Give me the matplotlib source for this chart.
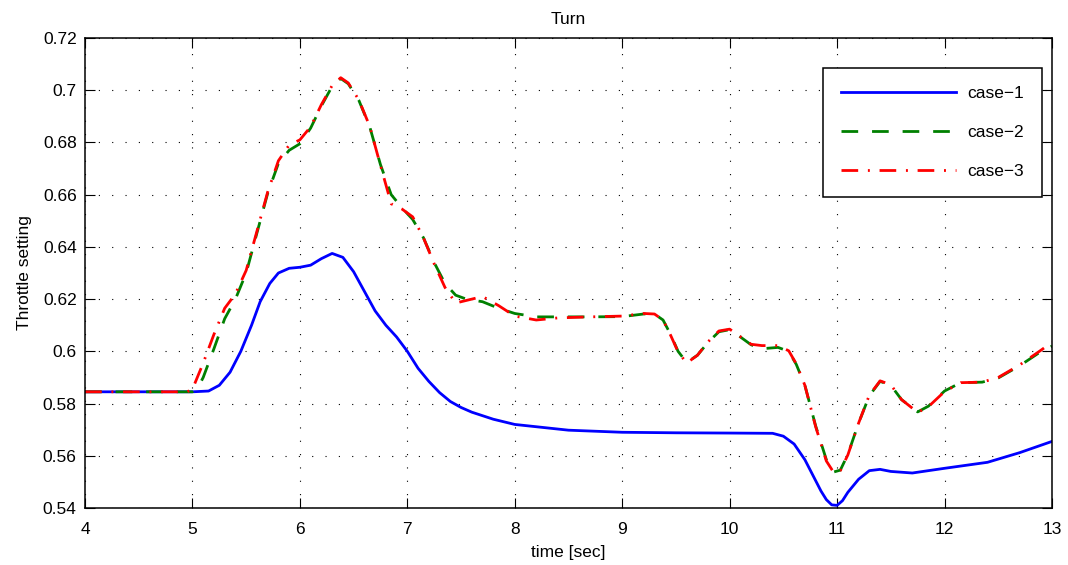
import matplotlib.pyplot as plt
import numpy as np

plt.rcParams['font.family'] = ['Liberation Sans', 'DejaVu Sans']

# case-1 throttle history
t1 = [4.0, 4.5, 5.0, 5.15, 5.25, 5.35, 5.45, 5.55, 5.63, 5.72, 5.8, 5.9, 6.0,
      6.1, 6.2, 6.3, 6.4, 6.5, 6.6, 6.7, 6.8, 6.9, 7.0, 7.1, 7.2, 7.3, 7.4,
      7.5, 7.6, 7.8, 8.0, 8.5, 9.0, 9.5, 10.0, 10.4, 10.5, 10.6, 10.7, 10.8,
      10.85, 10.9, 10.95, 11.0, 11.05, 11.1, 11.2, 11.3, 11.4, 11.5, 11.7,
      12.0, 12.4, 12.7, 13.0]
case1 = [0.5845, 0.5845, 0.5845, 0.5848, 0.587, 0.592, 0.600, 0.610, 0.619,
         0.626, 0.630, 0.6318, 0.6322, 0.633, 0.6355, 0.6375, 0.636, 0.6305,
         0.623, 0.6155, 0.610, 0.6055, 0.600, 0.5935, 0.5885, 0.5842, 0.5808,
         0.5785, 0.5767, 0.574, 0.572, 0.5698, 0.569, 0.5688, 0.5687, 0.5686,
         0.5675, 0.5645, 0.5585, 0.5505, 0.5465, 0.5432, 0.5412, 0.541,
         0.5428, 0.546, 0.551, 0.5543, 0.5548, 0.554, 0.5534, 0.5552, 0.5575,
         0.5612, 0.5655]

# case-2 / case-3 share the same time base
t23 = [4.0, 4.5, 4.95, 5.0, 5.05, 5.1, 5.2, 5.3, 5.4, 5.5, 5.6, 5.7, 5.8, 5.9,
       6.0, 6.1, 6.2, 6.3, 6.38, 6.45, 6.55, 6.65, 6.75, 6.85, 6.95, 7.05,
       7.15, 7.25, 7.35, 7.45, 7.55, 7.7, 7.85, 8.0, 8.2, 8.4, 8.7, 9.0, 9.2,
       9.3, 9.38, 9.45, 9.52, 9.6, 9.7, 9.8, 9.9, 10.0, 10.1, 10.2, 10.3,
       10.45, 10.55, 10.62, 10.7, 10.8, 10.9, 10.97, 11.03, 11.1, 11.2, 11.3,
       11.4, 11.5, 11.6, 11.75, 11.85, 12.0, 12.15, 12.35, 12.5, 12.7, 12.9,
       13.0]
case2 = [0.5845, 0.5845, 0.5845, 0.5845, 0.586, 0.590, 0.601, 0.6125, 0.620,
         0.630, 0.6453, 0.6605, 0.672, 0.677, 0.6795, 0.6855, 0.694, 0.7015,
         0.7045, 0.7025, 0.696, 0.686, 0.6715, 0.660, 0.655, 0.6505, 0.6435,
         0.634, 0.626, 0.6215, 0.620, 0.619, 0.6165, 0.6145, 0.6132, 0.6132,
         0.6132, 0.6133, 0.6143, 0.6143, 0.612, 0.6065, 0.600, 0.5957, 0.5985,
         0.6035, 0.6075, 0.6083, 0.6055, 0.6025, 0.601, 0.6015, 0.600, 0.595,
         0.587, 0.5715, 0.5585, 0.5538, 0.5545, 0.5605, 0.5725, 0.583, 0.5885,
         0.587, 0.5815, 0.5768, 0.579, 0.5848, 0.588, 0.5882, 0.5898, 0.5945,
         0.600, 0.602]
case3 = [0.5845, 0.5845, 0.5845, 0.5855, 0.5905, 0.5955, 0.6065, 0.6165,
         0.622, 0.631, 0.646, 0.661, 0.673, 0.679, 0.681, 0.686, 0.6945,
         0.7018, 0.7048, 0.7028, 0.6962, 0.6862, 0.6712, 0.6565, 0.6545,
         0.6515, 0.6435, 0.6335, 0.6245, 0.6185, 0.6195, 0.621, 0.6175,
         0.6135, 0.612, 0.6128, 0.6132, 0.6135, 0.6145, 0.6143, 0.612, 0.6062,
         0.5998, 0.5955, 0.5985, 0.6037, 0.6078, 0.6085, 0.6056, 0.6027,
         0.6022, 0.6022, 0.6002, 0.5952, 0.587, 0.5712, 0.558, 0.5535, 0.5543,
         0.5603, 0.5725, 0.5832, 0.5887, 0.5872, 0.5815, 0.5766, 0.5788,
         0.5846, 0.588, 0.5882, 0.59, 0.5948, 0.6005, 0.6035]

fs = 12.5

fig = plt.figure(figsize=(10.68, 5.65), dpi=100)
ax = fig.add_axes([0.0796, 0.1009, 0.9054, 0.8318])

ax.plot(t1, case1, color='#0000ff', lw=2.0, label='case\u22121')
ax.plot(t23, case2, color='#008000', lw=2.0, linestyle=(0, (6, 5)),
        label='case\u22122')
ax.plot(t23, case3, color='#ff0000', lw=2.0, linestyle=(0, (6, 3.5, 0.7, 3.5)),
        label='case\u22123')

ax.set_xlim(4, 13)
ax.set_ylim(0.54, 0.72)
ax.set_xticks(np.arange(4, 14, 1))
ax.set_yticks(np.arange(0.54, 0.7201, 0.02))
ax.set_yticklabels(['0.54', '0.56', '0.58', '0.6', '0.62', '0.64', '0.66',
                    '0.68', '0.7', '0.72'])
ax.grid(True, color='black', linestyle=(0, (1, 11)), linewidth=0.8)
ax.tick_params(direction='in', length=7, width=0.8, top=True, right=True,
               labelsize=fs)
ax.tick_params(axis='x', pad=10)
ax.tick_params(axis='y', pad=6)
for s in ax.spines.values():
    s.set_linewidth(1.1)

ax.set_title('Turn', fontsize=fs, pad=10)
ax.set_xlabel('time [sec]', fontsize=fs, labelpad=6)
ax.set_ylabel('Throttle setting', fontsize=fs, labelpad=8)

leg = ax.legend(loc='upper right', bbox_to_anchor=(0.9897, 0.936),
                fontsize=fs, fancybox=False, framealpha=1, edgecolor='black',
                handlelength=6.6, labelspacing=1.35, borderpad=1.05,
                handletextpad=0.65, borderaxespad=0)
leg.get_frame().set_linewidth(1.1)

fig.savefig('out.png', dpi=100)
